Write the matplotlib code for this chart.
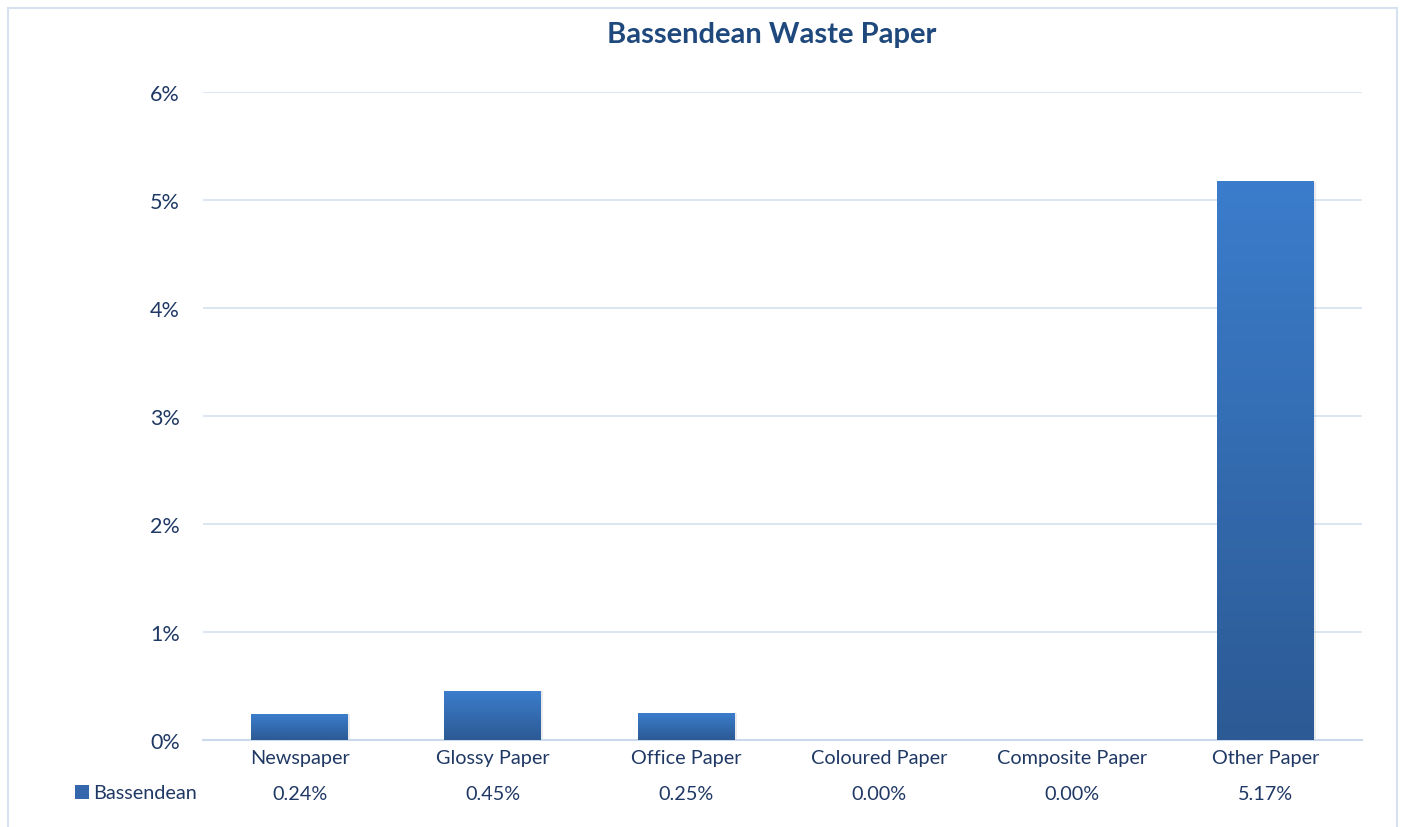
import matplotlib
matplotlib.use('Agg')
import matplotlib.pyplot as plt
from matplotlib.patches import Rectangle
from matplotlib.transforms import blended_transform_factory
import numpy as np

# ── Datos ─────────────────────────────────────────────────────────────
categorias = ['Newspaper', 'Glossy Paper', 'Office Paper',
              'Coloured Paper', 'Composite Paper', 'Other Paper']
valores = [0.0024, 0.0045, 0.0025, 0.0, 0.0, 0.0517]
serie = 'Bassendean'
titulo = 'Bassendean Waste Paper'
yticks = [0, 0.01, 0.02, 0.03, 0.04, 0.05, 0.06]

texto = '#1f3864'
plt.rcParams['font.family'] = ['Lato', 'DejaVu Sans']

fig = plt.figure(figsize=(14.04, 8.28), dpi=100)
ax = fig.add_axes([203/1404, 1 - 741/828, (1362 - 203)/1404, (741 - 93)/828])

x = np.arange(len(categorias))
barras = ax.bar(x, valores, width=0.5, color='none', zorder=3)

# degradado vertical dentro de cada barra
grad = np.linspace(0, 1, 256).reshape(-1, 1)
cmap = matplotlib.colors.LinearSegmentedColormap.from_list('g', ['#2c5a94', '#3b7dcc'])
for b in barras:
    h = b.get_height()
    if h <= 0:
        continue
    x0 = b.get_x()
    w = b.get_width()
    # sombra suave
    ax.add_patch(Rectangle((x0 + 0.012, 0), w, h, facecolor='#000000', alpha=0.08,
                           edgecolor='none', zorder=2))
    ax.imshow(grad, extent=(x0, x0 + w, 0, h), origin='lower', cmap=cmap,
              aspect='auto', zorder=3)

ax.set_xlim(-0.5, len(categorias) - 0.5)
ax.set_ylim(0, 0.06)
ax.set_yticks(yticks)
ax.set_yticklabels([f'{int(round(t*100))}%' for t in yticks], fontsize=15.5, color=texto)
ax.tick_params(axis='y', length=0, pad=16.5)
ax.set_xticks([])
ax.grid(axis='y', color='#d9e4f1', linewidth=1.3, zorder=0)
for s in ['top', 'right', 'left']:
    ax.spines[s].set_visible(False)
ax.spines['bottom'].set_color('#cad9ec')
ax.spines['bottom'].set_linewidth(1.5)

fig.text(772/1404, 1 - 35/828, titulo, ha='center', va='center',
         fontsize=21, fontweight='bold', color='#1f497d')

# ── Tabla de datos ────────────────────────────────────────────────────
tr = blended_transform_factory(ax.transData, fig.transFigure)
for i, (c, v) in enumerate(zip(categorias, valores)):
    ax.text(i, 1 - 759/828, c, transform=tr, ha='center', va='center',
            fontsize=14.3, color=texto)
    ax.text(i, 1 - 795/828, f'{v*100:.2f}%', transform=tr, ha='center', va='center',
            fontsize=14.3, color=texto)
fig.patches.append(Rectangle((75/1404, 1 - 800/828), 14/1404, 14/828,
                             transform=fig.transFigure, facecolor='#3467ab',
                             edgecolor='none'))
fig.text(93/1404, 1 - 794/828, serie, ha='left', va='center', fontsize=14.3, color=texto)

# marco del gráfico
fig.patches.append(Rectangle((8/1404, -0.01), (1397 - 8)/1404, 1 - 9/828 + 0.01,
                             transform=fig.transFigure, facecolor='none',
                             edgecolor='#d6e2f0', linewidth=1.5))

fig.savefig('out.png', dpi=100)
plt.close()
